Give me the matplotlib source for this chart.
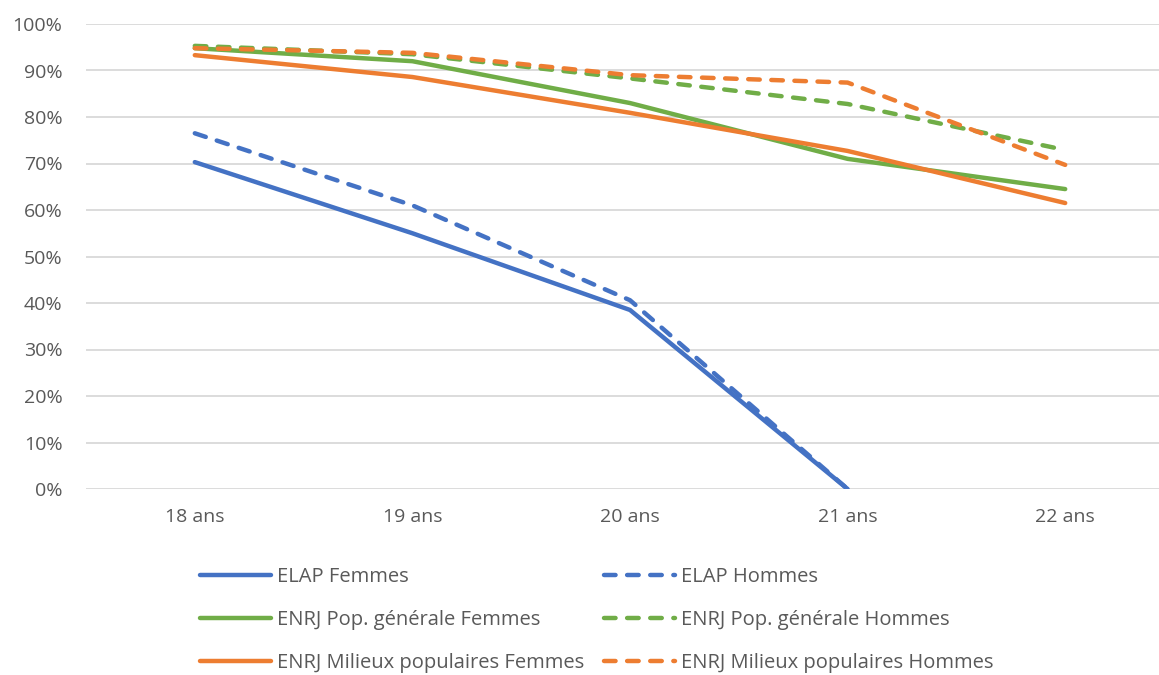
import matplotlib.pyplot as plt
from matplotlib.ticker import PercentFormatter

plt.rcParams['font.family'] = ['Open Sans', 'DejaVu Sans']

# Ages (categories)
ages = ['18 ans', '19 ans', '20 ans', '21 ans', '22 ans']

# Share of young people (%)
elap_femmes = [70.3, 55.0, 38.5, 0.0]
elap_hommes = [76.5, 61.0, 40.6, 0.0]
pop_femmes = [94.8, 92.0, 83.0, 71.0, 64.5]
pop_hommes = [95.3, 93.5, 88.3, 82.8, 72.9]
mil_femmes = [93.3, 88.6, 80.9, 72.7, 61.5]
mil_hommes = [94.8, 93.8, 89.0, 87.4, 69.7]

blue = '#4472C4'
green = '#70AD47'
orange = '#ED7D31'

fig = plt.figure(figsize=(11.59, 6.75), dpi=100)
ax = fig.add_axes([86 / 1159, 186 / 675, 1088 / 1159, 465 / 675])

lw = 3.2
dash = dict(linestyle=(0, (2.6, 2.6)), dash_capstyle='round')
solid = dict(solid_capstyle='round', solid_joinstyle='round')

x4 = range(len(elap_femmes))
x5 = range(len(ages))

h1, = ax.plot(x4, elap_femmes, color=blue, lw=lw, label='ELAP Femmes', **solid)
h2, = ax.plot(x4, elap_hommes, color=blue, lw=lw, label='ELAP Hommes', **dash)
h3, = ax.plot(x5, pop_femmes, color=green, lw=lw, label='ENRJ Pop. générale Femmes', **solid)
h4, = ax.plot(x5, pop_hommes, color=green, lw=lw, label='ENRJ Pop. générale Hommes', **dash)
h5, = ax.plot(x5, mil_femmes, color=orange, lw=lw, label='ENRJ Milieux populaires Femmes', **solid)
h6, = ax.plot(x5, mil_hommes, color=orange, lw=lw, label='ENRJ Milieux populaires Hommes', **dash)

ax.set_xlim(-0.5, 4.5)
ax.set_ylim(0, 100)
ax.set_yticks(range(0, 101, 10))
ax.yaxis.set_major_formatter(PercentFormatter(decimals=0))
ax.set_xticks(list(x5))
ax.set_xticklabels(ages)
ax.grid(axis='y', color='#D9D9D9', lw=1.3)
ax.set_axisbelow(True)
for s in ax.spines.values():
    s.set_visible(False)
ax.tick_params(axis='both', length=0, labelsize=14, colors='#595959')
ax.tick_params(axis='y', pad=17)
ax.tick_params(axis='x', pad=14)

fig.legend(handles=[h1, h3, h5, h2, h4, h6], ncol=2, frameon=False,
           loc='upper left', bbox_to_anchor=(182 / 1159, 1 - 549 / 675),
           fontsize=14.5, handlelength=3.5, handletextpad=0.3,
           columnspacing=1.0, labelspacing=1.13, labelcolor='#595959')

fig.savefig('out.png', dpi=100)
